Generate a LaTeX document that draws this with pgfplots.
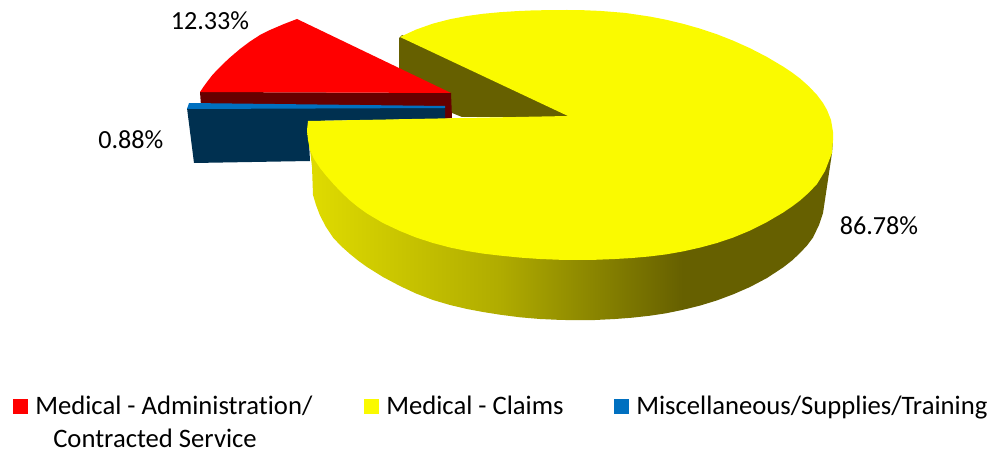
\documentclass[border=0pt]{standalone}
\usepackage{fontspec}
\setmainfont{Carlito}[Ligatures=NoCommon]
\usepackage{pgfplots}
\pgfplotsset{compat=1.18}
\definecolor{yy}{HTML}{FAFA00}
\definecolor{sideolive}{HTML}{666000}
\definecolor{darkred}{HTML}{660000}
\definecolor{navyface}{HTML}{003050}
\definecolor{bluetop}{HTML}{0070C0}
\definecolor{ysidelight}{HTML}{E0DC00}
\definecolor{ysidemid}{HTML}{B0AC00}
\pgfdeclarehorizontalshading{yside}{100bp}{color(0bp)=(ysidelight); color(25bp)=(ysidelight); color(43.3bp)=(ysidemid); color(60.7bp)=(sideolive); color(100bp)=(sideolive)}
\tikzset{
  lbl/.style={inner sep=0pt, font=\fontsize{19.6pt}{22pt}\selectfont, text=black, anchor=base west},
  leg/.style={inner sep=0pt, font=\fontsize{20pt}{22pt}\selectfont, text=black, anchor=base west},
}
\begin{document}
\begin{tikzpicture}
\begin{axis}[
  scale only axis, width=746.25pt, height=339pt,
  xmin=0, xmax=995, ymin=0, ymax=452, y dir=reverse,
  hide axis, clip=false,
]
\path (axis cs:0,0) rectangle (axis cs:995,452);
% olive cut face of the yellow slice
\addplot[draw=none, fill=sideolive] coordinates {(399,38)(402,35)(572,114)(568,117)(462,117)(452,113)(399,70)} --cycle;
% red slice: front face, top face
\addplot[draw=none, fill=darkred] coordinates {(200,92)(451,93)(452,118)(443,119)(201,106)} --cycle;
\addplot[draw=none, fill=red] coordinates {(297,19)(284,24)(270,30)(260,35)(250,41.5)(240,49)(230,57.5)(223,64)(217,70)(212,75.5)(207,82)(203,87.5)(200,92)(451,93)} --cycle;
% blue slice: top face, front face
\addplot[draw=none, fill=navyface] coordinates {(187,108)(445,107)(445,119)(308,121)(310,161)(194,163)} --cycle;
\addplot[draw=none, fill=bluetop] coordinates {(189,103)(445,106)(445,108)(187,109)} --cycle;
% yellow slice: side
\addplot[draw=none, shading=yside] coordinates {
(307,130)(310,150)(312,167)(313,195)(316,205)(320,215.5)(326,227)(333,237.5)(341,246)(350,254)(358,260.5)(367,267)(383,277)(400,286)(416,293.5)(433,300)(450,305)(467,309)(483,312)(500,314.7)(520,317.3)(540,319)(560,319.9)(576,320.2)(595,320)(615,319)(632,317.7)(650,315.7)(666,313.3)(683,309.8)(700,305.6)(717,300.4)(733,294.4)(750,287)(767,278)(783,267.5)(792,260.5)(800,253)(807,245.5)(813,237.5)(819,225)(823,213)(826,193)(832,153)(833,140)
} --cycle;
% yellow slice: top face
\addplot[draw=none, fill=yy] coordinates {
(568,116)(308,121)(307,130)(308,140)(310,150)(314,159)(320,168)(326,175.5)(333,183.5)(341,192)(350,200.5)(358,207)(367,213.5)(383,223)(400,231)(416,237.5)(433,243)(450,247.5)(467,251)(483,253.6)(500,255.6)(520,257.6)(540,259)(560,259.8)(576,260)(595,259.8)(615,259)(632,258)(650,256.4)(666,254.4)(683,251.4)(700,247.6)(717,243)(733,237.6)(750,230.6)(767,222)(783,212.6)(792,206.5)(800,200.5)(809,192.5)(817,184)(825,171)(832,153)(833,140)
(833,132)(831,120)(827,110)(823,103)(817,95)(809,86.5)(800,78.5)(792,72.5)(783,66.5)(767,57)(750,48.2)(733,40.6)(717,34.3)(700,28.6)(683,23.8)(666,19.7)(650,16.6)(625,12.9)(600,10.9)(583,10.2)(567,10)(550,10.1)(533,10.4)(517,11.1)(500,12.2)(483,13.8)(467,16)(450,19.2)(433,23.6)(416,29.6)(400,37)
} --cycle;
% legend swatches
\addplot[draw=none, fill=red] coordinates {(13,399)(28,399)(28,414)(13,414)} --cycle;
\addplot[draw=none, fill=yy] coordinates {(364,399)(379,399)(379,414)(364,414)} --cycle;
\addplot[draw=none, fill=bluetop] coordinates {(614,399)(629,399)(629,414)(614,414)} --cycle;
% data labels
\node[lbl] at (axis cs:170.5,30) {12.33\%};
\node[lbl] at (axis cs:98,149) {0.88\%};
\node[lbl] at (axis cs:839.5,234) {86.78\%};
% legend text
\node[leg] at (axis cs:35,414) {Medical - Administration/};
\node[leg] at (axis cs:53,447) {Contracted Service};
\node[leg] at (axis cs:386,414) {Medical - Claims};
\node[leg] at (axis cs:636,414) {Miscellaneous/Supplies/Training};
\end{axis}
\end{tikzpicture}
\end{document}
